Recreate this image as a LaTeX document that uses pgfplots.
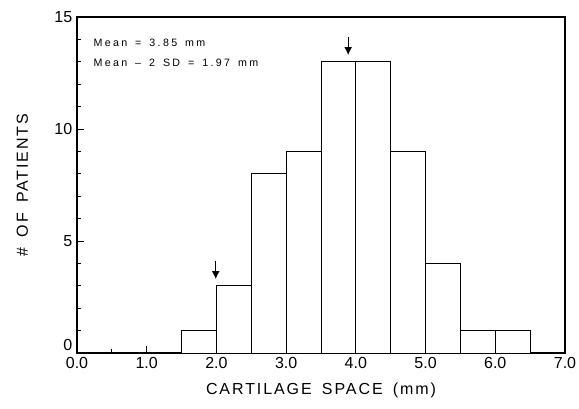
\documentclass[border=0pt]{standalone}
\usepackage{fontspec}
\setmainfont{Liberation Sans}
\newfontfamily\lblfont[LetterSpace=12,WordSpace=1.6]{Liberation Sans}
\newfontfamily\notefont[LetterSpace=22,WordSpace=1.5]{Liberation Sans}
\usepackage{pgfplots}
\pgfplotsset{compat=1.18}
\usetikzlibrary{arrows.meta}
\begin{document}
\begin{tikzpicture}
\begin{axis}[
    scale only axis,
    width=366pt,
    height=252pt,
    xmin=0, xmax=7,
    ymin=0, ymax=15,
    xtick={0,1,...,7},
    minor xtick={0.5,1.5,...,6.5},
    ytick={5,10,15},
    extra y ticks={0},
    extra y tick style={yticklabel style={yshift=6pt}},
    minor ytick={1,2,3,4,6,7,8,9,11,12,13,14},
    xtick pos=bottom,
    ytick pos=left,
    tick align=inside,
    major tick length=5pt,
    minor tick length=3pt,
    xticklabel style={/pgf/number format/fixed, /pgf/number format/fixed zerofill, /pgf/number format/precision=1},
    /pgf/number format/assume math mode=true,
    tick label style={font=\fontsize{12}{14}\selectfont},
    xlabel={CARTILAGE SPACE (mm)},
    ylabel={\# OF PATIENTS},
    xlabel style={font=\lblfont\fontsize{12}{14}\selectfont, at={(axis description cs:0.5,0)}, anchor=center, yshift=-28pt},
    ylabel style={font=\lblfont\fontsize{12}{14}\selectfont, at={(axis description cs:-0.112,0.5)}, anchor=center},
    axis line style={line width=0.8pt},
    tick style={line width=0.6pt, black},
]
\addplot[ybar interval, draw=black, fill=white, line width=0.7pt]
    coordinates {
        (1.5,1) (2.0,3) (2.5,8) (3.0,9) (3.5,13) (4.0,13)
        (4.5,9) (5.0,4) (5.5,1) (6.0,1) (6.5,1)
    };
\node[anchor=west, font=\notefont\fontsize{8}{9}\selectfont] at (axis cs:0.17,13.84) {Mean = 3.85 mm};
\node[anchor=west, font=\notefont\fontsize{8}{9}\selectfont] at (axis cs:0.17,12.95) {Mean \textendash{} 2 SD = 1.97 mm};
\draw[-{Latex[length=6pt,width=6pt]}, line width=0.9pt] (axis cs:1.99,4.1) -- (axis cs:1.99,3.3);
\draw[-{Latex[length=6pt,width=6pt]}, line width=0.9pt] (axis cs:3.89,14.1) -- (axis cs:3.89,13.3);
\end{axis}
\pgfresetboundingbox
\path[use as bounding box] (current axis.south west) ++(-57.75pt,-41.25pt) rectangle ++(434.25pt,306pt);
\end{tikzpicture}
\end{document}
